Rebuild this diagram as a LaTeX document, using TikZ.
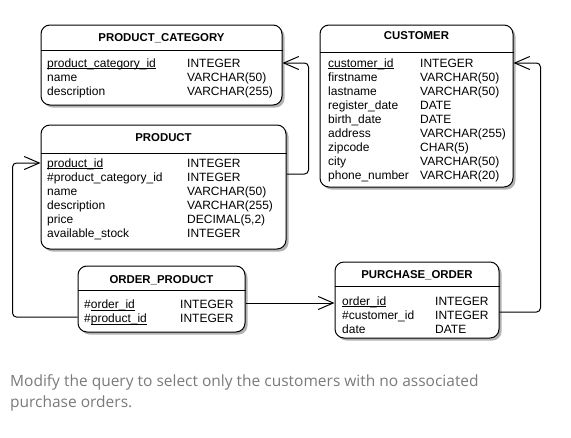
\documentclass[tikz,border=0pt]{standalone}
\usepackage{fontspec}
\setmainfont{Liberation Sans}
\newfontfamily\notefont{Open Sans}
\usetikzlibrary{arrows.meta,fit,shadows,positioning}
\definecolor{notegray}{RGB}{122,122,122}
\newcommand\keyfield[1]{\leavevmode\setbox0\hbox{#1}\rlap{\rule[-2.2pt]{\wd0}{0.9pt}}\box0}

\tikzset{
  entity/.style={draw, line width=1pt, rounded corners=9pt, fill=white, inner sep=0pt,
    drop shadow={shadow xshift=2.5pt, shadow yshift=-2.5pt, fill=black, opacity=0.3}},
  entityname/.style={anchor=base, inner sep=0pt, font=\fontsize{11.4}{13}\selectfont\bfseries},
  fields/.style={anchor=base west, inner sep=0pt, font=\fontsize{12}{14}\selectfont},
  fk/.style={line width=1pt, rounded corners=4pt, -{Straight Barb[length=15pt,width=13pt]}},
  note/.style={anchor=base west, inner sep=0pt, align=left, text=notegray,
    font=\notefont\fontsize{15.5}{20.5}\selectfont}
}

\begin{document}
\begin{tikzpicture}[x=1pt,y=-1pt]
\useasboundingbox (0,0) rectangle (571,437);

\node [entity, fit={(41,25) (282,105)}] (pc) {};
\node [entityname] (pc-name) at (pc.center |- 0,41) {PRODUCT\_CATEGORY};
\draw [line width=1pt] (pc.west |- 0,50) -- (pc.east |- 0,50);
\node [fields] (pc-fields) at (47,67) {\begin{tabular}[t]{@{}p{140pt}@{}l@{}}
\keyfield{product\_category\_id} & INTEGER\\
name & VARCHAR(50)\\
description & VARCHAR(255)
\end{tabular}};

\node [entity, fit={(41,125) (286,249)}] (prod) {};
\node [entityname] (prod-name) at (prod.center |- 0,141.5) {PRODUCT};
\draw [line width=1pt] (prod.west |- 0,153) -- (prod.east |- 0,153);
\node [fields] (prod-fields) at (47,167) {\begin{tabular}[t]{@{}p{140pt}@{}l@{}}
\keyfield{product\_id} & INTEGER\\
\#product\_category\_id & INTEGER\\
name & VARCHAR(50)\\
description & VARCHAR(255)\\
price & DECIMAL(5,2)\\
available\_stock & INTEGER
\end{tabular}};

\node [entity, fit={(320,25) (513,187)}] (cust) {};
\node [entityname] (cust-name) at (cust.center |- 0,39.5) {CUSTOMER};
\draw [line width=1pt] (cust.west |- 0,52) -- (cust.east |- 0,52);
\node [fields] (cust-fields) at (328,67) {\begin{tabular}[t]{@{}p{92pt}@{}l@{}}
\keyfield{customer\_id} & INTEGER\\
firstname & VARCHAR(50)\\
lastname & VARCHAR(50)\\
register\_date & DATE\\
birth\_date & DATE\\
address & VARCHAR(255)\\
zipcode & CHAR(5)\\
city & VARCHAR(50)\\
phone\_number & VARCHAR(20)
\end{tabular}};

\node [entity, fit={(78,266) (245,332)}] (op) {};
\node [entityname] (op-name) at (op.center |- 0,283) {ORDER\_PRODUCT};
\draw [line width=1pt] (op.west |- 0,290) -- (op.east |- 0,290);
\node [fields] (op-fields) at (84,308.5) {\begin{tabular}[t]{@{}p{96pt}@{}l@{}}
\#\keyfield{order\_id} & INTEGER\\
\#\keyfield{product\_id} & INTEGER
\end{tabular}};

\node [entity, fit={(335,262) (499,338)}] (po) {};
\node [entityname] (po-name) at (po.center |- 0,278) {PURCHASE\_ORDER};
\draw [line width=1pt] (po.west |- 0,286) -- (po.east |- 0,286);
\node [fields] (po-fields) at (342,305) {\begin{tabular}[t]{@{}p{93pt}@{}l@{}}
\keyfield{order\_id} & INTEGER\\
\#customer\_id & INTEGER\\
date & DATE
\end{tabular}};

\draw [fk] (prod.east |- 0,174) -- ++(22,0) |- (pc.east |- 0,63);
\draw [fk] (po.east |- 0,312) -- ++(41,0) |- (cust.east |- 0,63);
\draw [fk] (op.east |- 0,303) -- (po.west |- 0,303);
\draw [fk] (op.west |- 0,317) -- ++(-65,0) |- (prod.west |- 0,163);

\node [note] (task) at (10,407) {Modify the query to select only the customers with no associated\\purchase orders.};
\end{tikzpicture}
\end{document}
